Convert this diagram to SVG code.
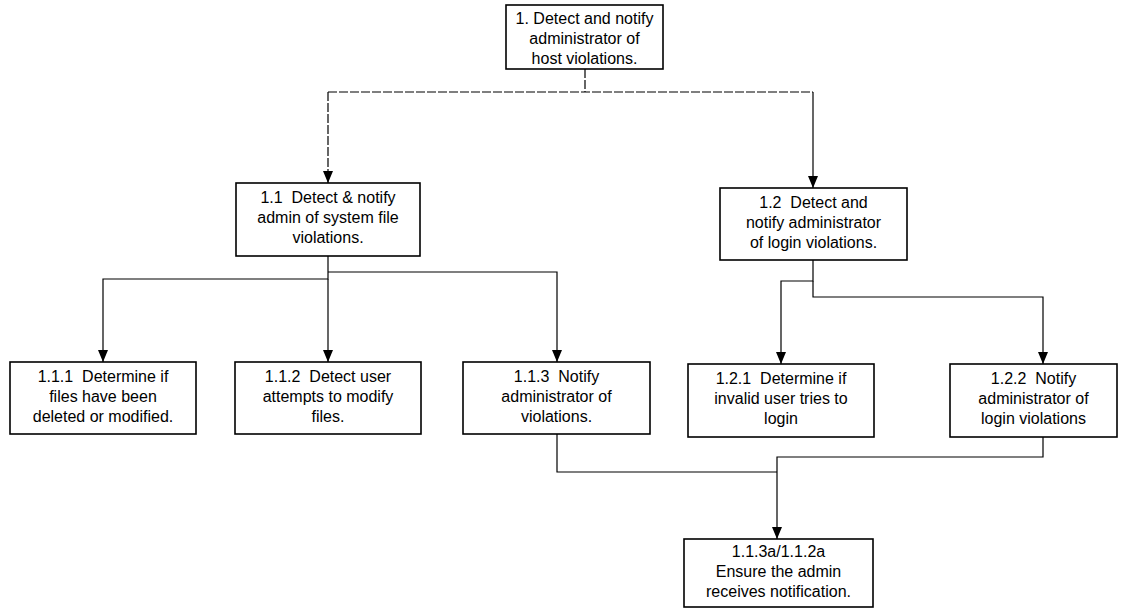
<svg xmlns="http://www.w3.org/2000/svg" width="1128" height="612" viewBox="0 0 1128 612">
<style>
.box{fill:#fff;stroke:#000;stroke-width:1.6}
.t{font-family:"Liberation Sans",Arial,sans-serif;font-size:16px;fill:#000;text-anchor:middle;white-space:pre}
.c{fill:none;stroke:#000;stroke-width:1.2}
</style>
<defs>
<marker id="ad" markerWidth="10" markerHeight="12" refX="5" refY="12" orient="0" markerUnits="userSpaceOnUse" viewBox="0 0 10 12">
<path d="M0,0 L10,0 L5,12 Z" fill="#000"/>
</marker>
</defs>
<rect width="1128" height="612" fill="#fff"/>
<g id="connectors">
<path class="c" d="M585,69 V92 M328,92 H813" stroke-dasharray="9,2"/>
<path class="c" d="M328,92 V183" marker-end="url(#ad)" stroke-dasharray="9,2"/>
<path class="c" d="M813,92 V188" marker-end="url(#ad)"/>
<path class="c" d="M328,256 V279 H103 V362" marker-end="url(#ad)"/>
<path class="c" d="M328,279 V362" marker-end="url(#ad)"/>
<path class="c" d="M328,272 H557 V362" marker-end="url(#ad)"/>
<path class="c" d="M813,260 V281 H781 V364" marker-end="url(#ad)"/>
<path class="c" d="M813,281 V297 H1043 V364" marker-end="url(#ad)"/>
<path class="c" d="M557,434 V472 H777"/>
<path class="c" d="M1043,437 V457 H777 V539" marker-end="url(#ad)"/>
</g>
<g id="n1">
<rect class="box" x="506" y="5" width="157" height="64"/>
<text class="t" x="584.5" y="24" xml:space="preserve"><tspan x="584.5">1. Detect and notify</tspan><tspan x="584.5" dy="20">administrator of</tspan><tspan x="584.5" dy="20">host violations.</tspan></text>
</g>
<g id="n1_1">
<rect class="box" x="236" y="183" width="184" height="73"/>
<text class="t" x="328" y="203" xml:space="preserve"><tspan x="328">1.1  Detect &amp; notify</tspan><tspan x="328" dy="20">admin of system file</tspan><tspan x="328" dy="20">violations.</tspan></text>
</g>
<g id="n1_2">
<rect class="box" x="720" y="188" width="187" height="72"/>
<text class="t" x="813.5" y="208" xml:space="preserve"><tspan x="813.5">1.2  Detect and</tspan><tspan x="813.5" dy="20">notify administrator</tspan><tspan x="813.5" dy="20">of login violations.</tspan></text>
</g>
<g id="n1_1_1">
<rect class="box" x="10" y="362" width="186" height="72"/>
<text class="t" x="103" y="382" xml:space="preserve"><tspan x="103">1.1.1  Determine if</tspan><tspan x="103" dy="20">files have been</tspan><tspan x="103" dy="20">deleted or modified.</tspan></text>
</g>
<g id="n1_1_2">
<rect class="box" x="235" y="362" width="186" height="72"/>
<text class="t" x="328" y="382" xml:space="preserve"><tspan x="328">1.1.2  Detect user</tspan><tspan x="328" dy="20">attempts to modify</tspan><tspan x="328" dy="20">files.</tspan></text>
</g>
<g id="n1_1_3">
<rect class="box" x="463" y="362" width="187" height="72"/>
<text class="t" x="556.5" y="382" xml:space="preserve"><tspan x="556.5">1.1.3  Notify</tspan><tspan x="556.5" dy="20">administrator of</tspan><tspan x="556.5" dy="20">violations.</tspan></text>
</g>
<g id="n1_2_1">
<rect class="box" x="688" y="364" width="186" height="73"/>
<text class="t" x="781" y="384" xml:space="preserve"><tspan x="781">1.2.1  Determine if</tspan><tspan x="781" dy="20">invalid user tries to</tspan><tspan x="781" dy="20">login</tspan></text>
</g>
<g id="n1_2_2">
<rect class="box" x="950" y="364" width="167" height="73"/>
<text class="t" x="1033.5" y="384" xml:space="preserve"><tspan x="1033.5">1.2.2  Notify</tspan><tspan x="1033.5" dy="20">administrator of</tspan><tspan x="1033.5" dy="20">login violations</tspan></text>
</g>
<g id="n1_1_3a">
<rect class="box" x="684" y="539" width="189" height="68"/>
<text class="t" x="778.5" y="557" xml:space="preserve"><tspan x="778.5">1.1.3a/1.1.2a</tspan><tspan x="778.5" dy="20">Ensure the admin</tspan><tspan x="778.5" dy="20">receives notification.</tspan></text>
</g>
</svg>
